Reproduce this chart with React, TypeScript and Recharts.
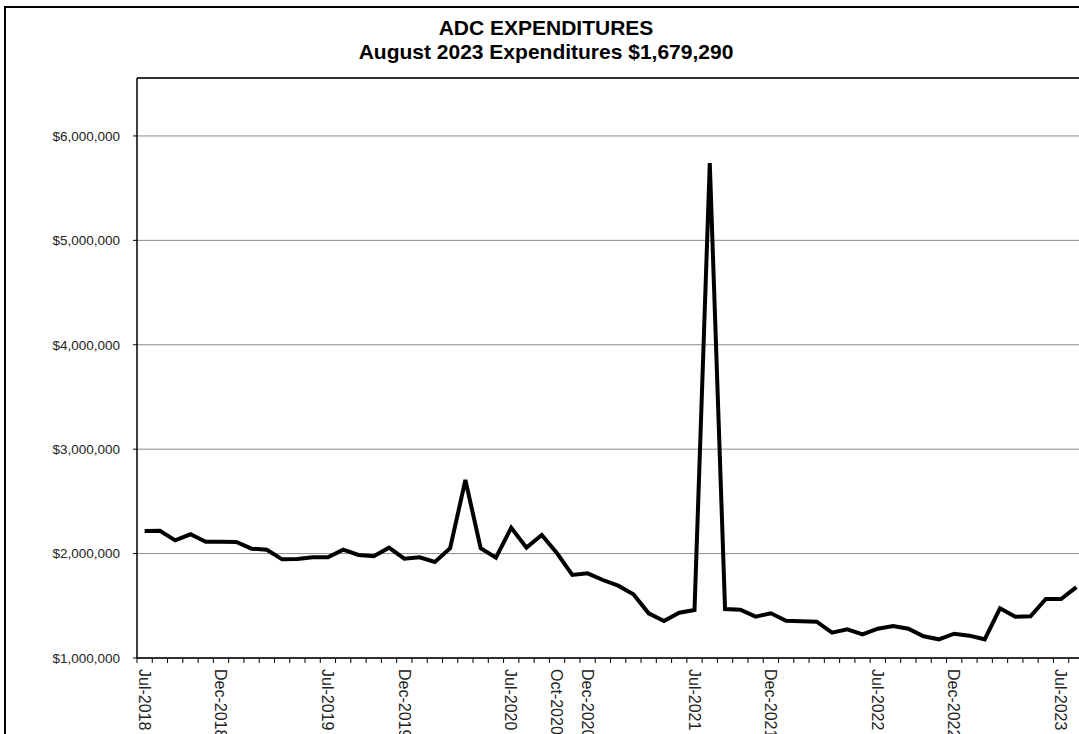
import React from "react";
import {
  LineChart,
  Line,
  XAxis,
  YAxis,
  CartesianGrid,
  ReferenceLine,
} from "recharts";

const months = [
  "Jul-2018", "Aug-2018", "Sep-2018", "Oct-2018", "Nov-2018", "Dec-2018",
  "Jan-2019", "Feb-2019", "Mar-2019", "Apr-2019", "May-2019", "Jun-2019",
  "Jul-2019", "Aug-2019", "Sep-2019", "Oct-2019", "Nov-2019", "Dec-2019",
  "Jan-2020", "Feb-2020", "Mar-2020", "Apr-2020", "May-2020", "Jun-2020",
  "Jul-2020", "Aug-2020", "Sep-2020", "Oct-2020", "Nov-2020", "Dec-2020",
  "Jan-2021", "Feb-2021", "Mar-2021", "Apr-2021", "May-2021", "Jun-2021",
  "Jul-2021", "Aug-2021", "Sep-2021", "Oct-2021", "Nov-2021", "Dec-2021",
  "Jan-2022", "Feb-2022", "Mar-2022", "Apr-2022", "May-2022", "Jun-2022",
  "Jul-2022", "Aug-2022", "Sep-2022", "Oct-2022", "Nov-2022", "Dec-2022",
  "Jan-2023", "Feb-2023", "Mar-2023", "Apr-2023", "May-2023", "Jun-2023",
  "Jul-2023", "Aug-2023",
];

const expenditures = [
  2216000, 2219000, 2127000, 2185000, 2114000, 2114000,
  2111000, 2047000, 2037000, 1945000, 1949000, 1965000,
  1965000, 2037000, 1987000, 1974000, 2057000, 1951000,
  1965000, 1920000, 2051000, 2705000, 2051000, 1961000,
  2248000, 2057000, 2178000, 2003000, 1795000, 1811000,
  1747000, 1693000, 1610000, 1428000, 1354000, 1434000,
  1460000, 5740000, 1469000, 1463000, 1396000, 1428000,
  1357000, 1351000, 1348000, 1243000, 1275000, 1227000,
  1281000, 1307000, 1281000, 1208000, 1179000, 1233000,
  1214000, 1179000, 1476000, 1396000, 1399000, 1565000,
  1565000, 1679290,
];

const labeledMonths = [
  "Jul-2018", "Dec-2018", "Jul-2019", "Dec-2019", "Jul-2020", "Oct-2020",
  "Dec-2020", "Jul-2021", "Dec-2021", "Jul-2022", "Dec-2022", "Jul-2023",
];

const yTicks = [1000000, 2000000, 3000000, 4000000, 5000000, 6000000];
const Y_MIN = 1000000;
const Y_MAX = 6555000;

const data = months.map((m, i) => ({ month: m, value: expenditures[i] }));

const FONT = '"Liberation Sans", Arial, sans-serif';
const CHART_W = 1100;
const PLOT_LEFT = 137;
const MARGIN_RIGHT = 16;
const BAND = (CHART_W - PLOT_LEFT - MARGIN_RIGHT) / months.length;

const money = (v: number) => "$" + v.toLocaleString("en-US");

const MonthTick = (props: any) => {
  const { x, y, payload } = props;
  const ty = y + 6;
  return (
    <g>
      <line x1={x - BAND / 2} x2={x - BAND / 2} y1={y - 5} y2={y} stroke="#000" strokeWidth={1} />
      {labeledMonths.includes(payload.value) && (
        <text
          x={x}
          y={ty}
          dy="0.36em"
          textAnchor="start"
          transform={`rotate(90 ${x} ${ty})`}
          fontSize={16}
          fontFamily={FONT}
          fill="#222"
        >
          {payload.value}
        </text>
      )}
    </g>
  );
};

export default function App() {
  return (
    <div
      style={{
        position: "absolute",
        left: 0,
        top: 0,
        width: 1079,
        height: 734,
        overflow: "hidden",
        background: "#fff",
      }}
    >
      <div
        style={{
          position: "absolute",
          left: 4,
          top: 6,
          width: 1200,
          height: 800,
          border: "2px solid #000",
        }}
      />
      <div
        style={{
          position: "absolute",
          left: 0,
          top: 16,
          width: 1092,
          textAlign: "center",
          fontFamily: FONT,
          fontWeight: "bold",
          fontSize: 21,
          lineHeight: "24px",
          color: "#000",
        }}
      >
        <div>ADC EXPENDITURES</div>
        <div>August 2023 Expenditures $1,679,290</div>
      </div>
      <div style={{ position: "absolute", left: 0, top: 0 }}>
        <LineChart
          width={CHART_W}
          height={760}
          data={data}
          margin={{ top: 78, right: MARGIN_RIGHT, bottom: 12, left: 0 }}
        >
          <CartesianGrid vertical={false} stroke="#8c8c8c" strokeWidth={1} />
          <XAxis
            dataKey="month"
            scale="band"
            interval={0}
            height={90}
            tickLine={false}
            tickSize={5}
            tickMargin={0}
            tick={<MonthTick />}
            axisLine={{ stroke: "#000", strokeWidth: 1.5 }}
          />
          <YAxis
            width={PLOT_LEFT}
            domain={[Y_MIN, Y_MAX]}
            ticks={yTicks}
            allowDataOverflow
            tickFormatter={money}
            tickSize={4}
            tickMargin={13}
            tick={{ fontSize: 13.5, fontFamily: FONT, fill: "#222" }}
            tickLine={{ stroke: "#000" }}
            axisLine={{ stroke: "#000", strokeWidth: 1.5 }}
          />
          <ReferenceLine y={Y_MAX} stroke="#000" strokeWidth={1.5} />
          <Line
            type="linear"
            dataKey="value"
            stroke="#000"
            strokeWidth={4}
            dot={false}
            isAnimationActive={false}
          />
        </LineChart>
      </div>
    </div>
  );
}
